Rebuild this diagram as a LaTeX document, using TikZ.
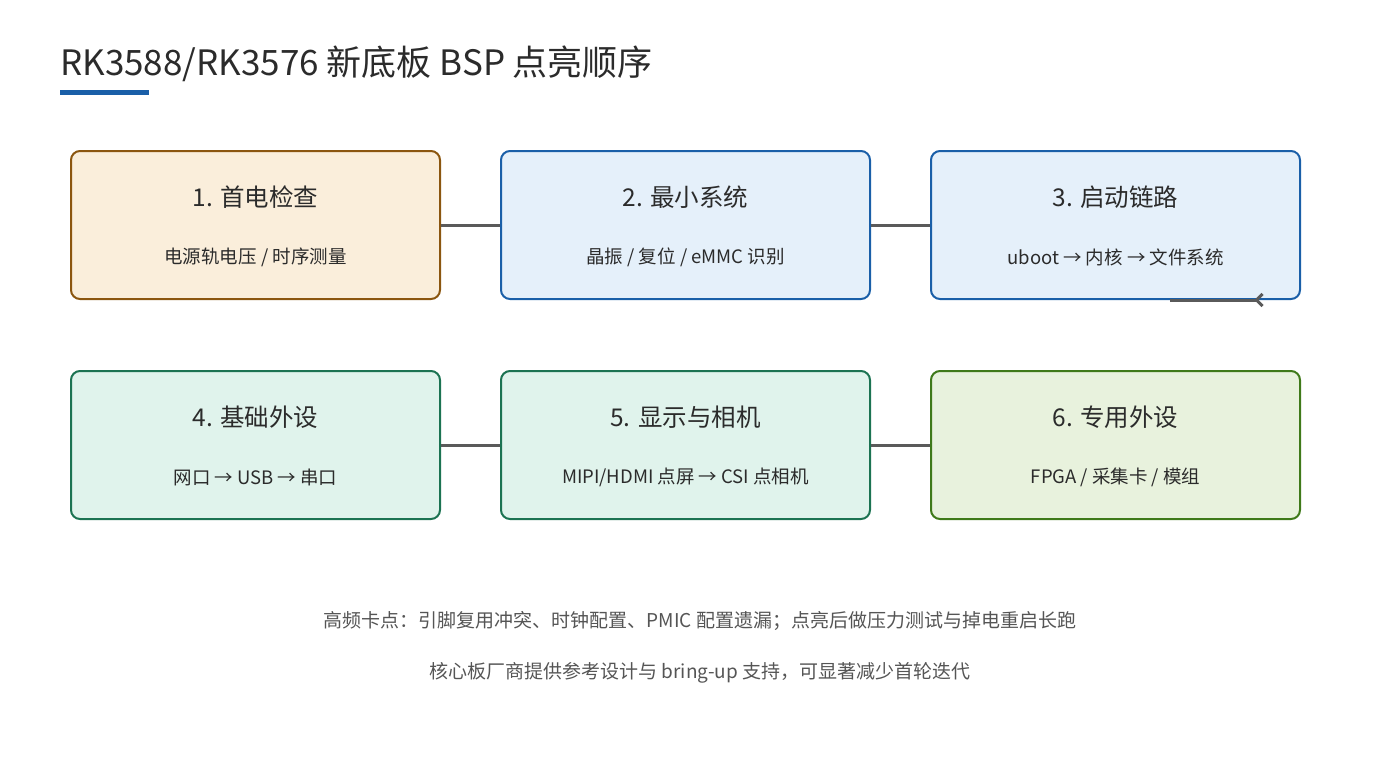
\documentclass[tikz,border=0pt]{standalone}
\usepackage{fontspec}
\setmainfont{Noto Sans CJK SC}
\usetikzlibrary{positioning, arrows.meta}
\definecolor{txtdark}{HTML}{2B2B2B}
\definecolor{txtgray}{HTML}{555555}
\definecolor{linegray}{HTML}{5A5A5A}
\definecolor{accent}{HTML}{1A5FA8}
\definecolor{orgfill}{HTML}{FAEEDB}
\definecolor{orgdraw}{HTML}{8B560F}
\definecolor{bluefill}{HTML}{E5F0FA}
\definecolor{bluedraw}{HTML}{1A5FA8}
\definecolor{tealfill}{HTML}{E0F3EC}
\definecolor{tealdraw}{HTML}{1C7352}
\definecolor{greenfill}{HTML}{E8F2DD}
\definecolor{greendraw}{HTML}{3F7A1A}
\tikzset{
    x=1pt, y=-1pt,
    stage/.style = {rectangle, rounded corners=9pt, line width=2pt, minimum width=369pt, minimum height=148pt, inner sep=0pt}, % every box
    head/.style = {text=txtdark, font=\fontsize{24.5}{28}\selectfont},
    sub/.style = {text=txtdark, font=\fontsize{18.5}{22}\selectfont},
    note/.style = {text=txtgray, font=\fontsize{19}{22}\selectfont},
    link/.style = {draw=linegray, line width=3pt}
}
\begin{document}
\begin{tikzpicture}
    \useasboundingbox (0,0) rectangle (1400,760);
    % title
    \node[anchor=west, inner sep=0pt, text=txtdark, font=\fontsize{35}{40}\selectfont] (title) at (60,64) {RK3588/RK3576 新底板 BSP 点亮顺序};
    \fill[accent] (60,90) rectangle (149,95);

    % row one
    \node[stage, fill=orgfill, draw=orgdraw] (s1) at (255.5,225) {};
    \node[stage, fill=bluefill, draw=bluedraw] (s2) [right=59pt of s1] {};
    \node[stage, fill=bluefill, draw=bluedraw] (s3) [right=59pt of s2] {};
    % row two
    \node[stage, fill=tealfill, draw=tealdraw] (s4) [below=70pt of s1] {};
    \node[stage, fill=tealfill, draw=tealdraw] (s5) [right=59pt of s4] {};
    \node[stage, fill=greenfill, draw=greendraw] (s6) [right=59pt of s5] {};

    \node[head] (h1) at ([yshift=28pt]s1.center) {1. 首电检查};
    \node[sub] (t1) at ([yshift=-32pt]s1.center) {电源轨电压 / 时序测量};
    \node[head] (h2) at ([yshift=28pt]s2.center) {2. 最小系统};
    \node[sub] (t2) at ([yshift=-32pt]s2.center) {晶振 / 复位 / eMMC 识别};
    \node[head] (h3) at ([yshift=28pt]s3.center) {3. 启动链路};
    \node[sub] (t3) at ([yshift=-32pt]s3.center) {uboot → 内核 → 文件系统};
    \node[head] (h4) at ([yshift=28pt]s4.center) {4. 基础外设};
    \node[sub] (t4) at ([yshift=-32pt]s4.center) {网口 → USB → 串口};
    \node[head] (h5) at ([yshift=28pt]s5.center) {5. 显示与相机};
    \node[sub] (t5) at ([yshift=-32pt]s5.center) {MIPI/HDMI 点屏 → CSI 点相机};
    \node[head] (h6) at ([yshift=28pt]s6.center) {6. 专用外设};
    \node[sub] (t6) at ([yshift=-32pt]s6.center) {FPGA / 采集卡 / 模组};

    \path[link] (s1) -- (s2);
    \path[link] (s2) -- (s3);
    \path[link] (s4) -- (s5);
    \path[link] (s5) -- (s6);
    \coordinate (tailA) at (1170,300);
    \coordinate (tipA) at (1264,300);
    \draw[link, -{Straight Barb[reversed, length=6pt, width=12pt]}] (tailA) -- (tipA);

    % notes
    \node[note] (n1) at (700,621) {高频卡点：引脚复用冲突、时钟配置、PMIC 配置遗漏；点亮后做压力测试与掉电重启长跑};
    \node[note] (n2) at (700,673) {核心板厂商提供参考设计与 bring-up 支持，可显著减少首轮迭代};
\end{tikzpicture}
\end{document}
